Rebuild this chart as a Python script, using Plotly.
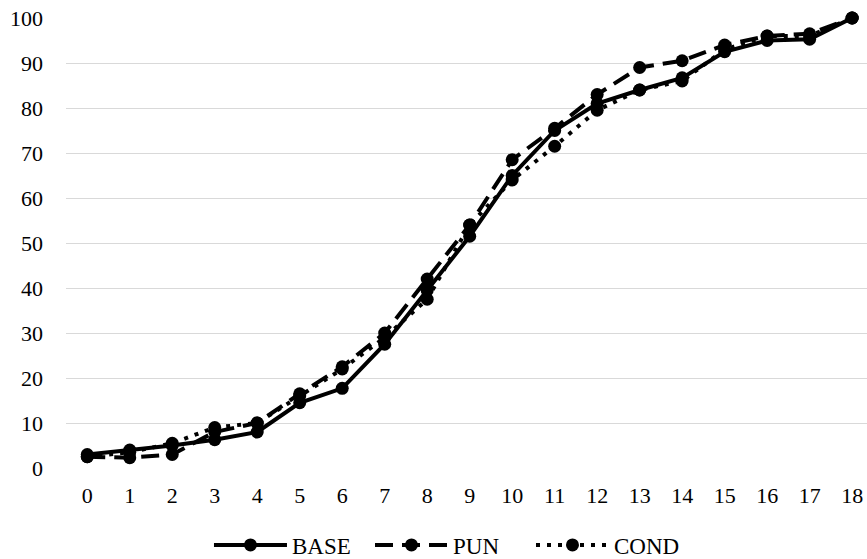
import plotly.graph_objects as go

x_vals = list(range(19))
base = [3, 4, 5, 6.3, 8, 14.5, 17.7, 27.5, 39.5, 51.5, 65, 75, 81, 84, 86.7, 92.5, 95, 95.3, 100]
pun = [2.5, 2.3, 3, 8, 10, 16.5, 22.5, 30, 42, 54, 68.5, 75.5, 83, 89, 90.5, 94, 96, 96.5, 100]
cond = [2.5, 3.5, 5.5, 9, 10, 16, 22, 29, 37.5, 54, 64, 71.5, 79.5, 84, 86, 93, 96, 96, 100]
y_ticks = list(range(0, 101, 10))

series = [("BASE", base, "solid"), ("PUN", pun, "18px,9px"), ("COND", cond, "4px,7px")]

FONT = "'Liberation Serif', 'Times New Roman', Times, 'DejaVu Serif', serif"

fig = go.Figure()
for name, vals, dash in series:
    fig.add_trace(go.Scatter(
        x=x_vals, y=vals, name=name, mode="lines+markers",
        line=dict(color="black", width=4, dash=dash),
        marker=dict(color="black", size=13),
        cliponaxis=False,
    ))

fig.update_layout(
    width=867, height=559,
    margin=dict(l=66, r=0, t=18, b=91, autoexpand=False),
    plot_bgcolor="white", paper_bgcolor="white",
    font=dict(family=FONT, size=22, color="black"),
    showlegend=True,
    legend=dict(orientation="h", x=0.48, xanchor="center",
                yref="container", y=14 / 559, yanchor="middle",
                font=dict(family=FONT, size=23), itemwidth=73, entrywidth=73,
                traceorder="normal"),
    xaxis=dict(range=[-0.5, 18.35], tickmode="array", tickvals=x_vals,
               ticktext=[str(v) for v in x_vals], showgrid=False, zeroline=False,
               showline=False, ticks="", ticklabelstandoff=12,
               tickfont=dict(family=FONT, size=22)),
    yaxis=dict(range=[0, 100], tickmode="array", tickvals=y_ticks,
               showgrid=True, gridcolor="#d9d9d9", gridwidth=1.3, zeroline=False,
               showline=False, ticks="", ticklabelstandoff=22,
               tickfont=dict(family=FONT, size=22)),
)

fig.write_html(
    "out.html",
    config={"displayModeBar": False},
    post_script="document.body.style.margin='0';document.body.style.overflow='hidden';",
)
